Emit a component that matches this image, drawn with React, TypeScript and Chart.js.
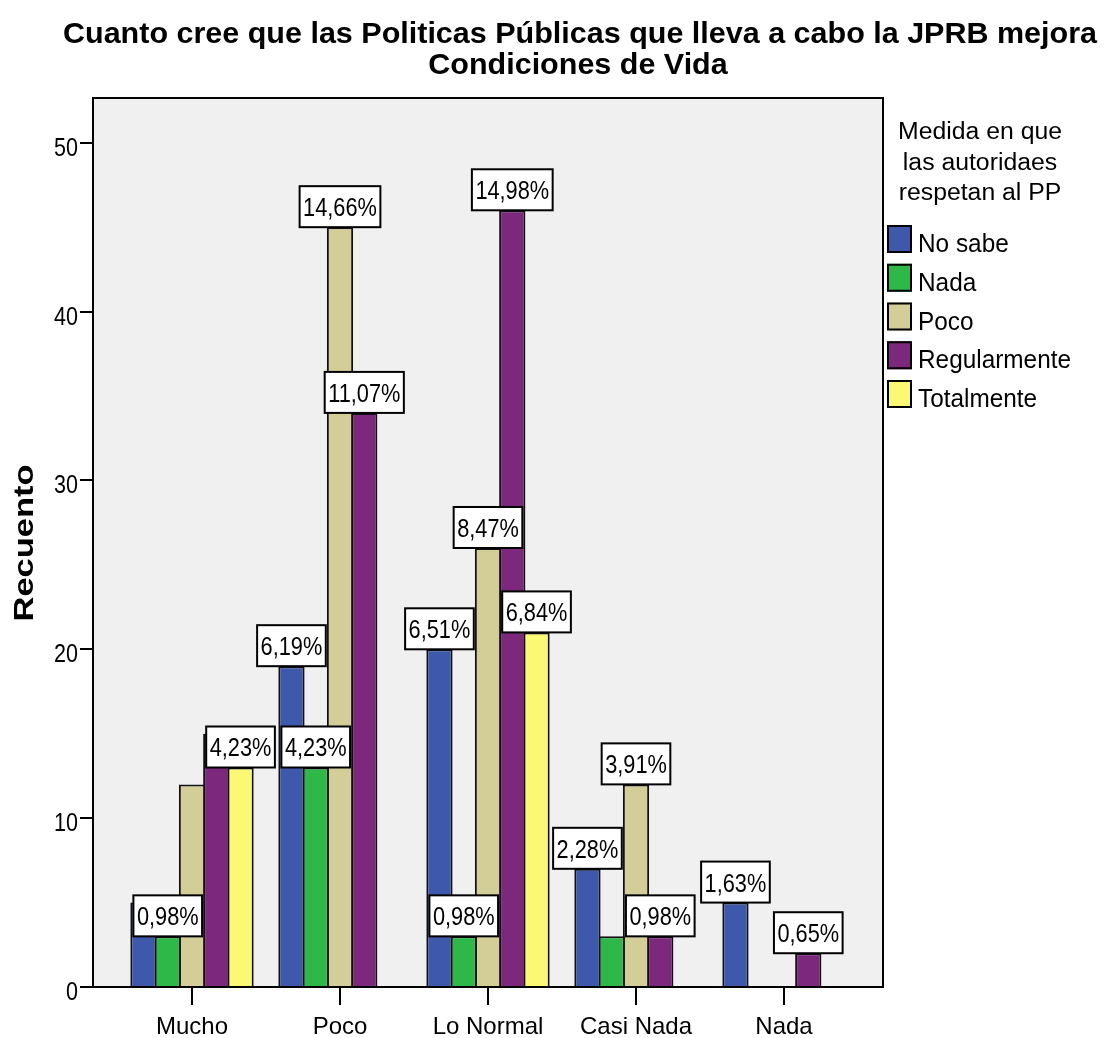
import React, { useEffect, useRef } from "react";
import { Chart, registerables } from "chart.js";

Chart.register(...registerables);

// ---- data ----
const titleLines = [
  "Cuanto cree que las Politicas Públicas que lleva a cabo la JPRB mejora",
  "Condiciones de Vida",
];
const yAxisTitle = "Recuento";
const legendTitle = ["Medida en que", "las autoridaes", "respetan al PP"];
const categories = ["Mucho", "Poco", "Lo Normal", "Casi Nada", "Nada"];
const yTicks = [0, 10, 20, 30, 40, 50];

const seriesNames = ["No sabe", "Nada", "Poco", "Regularmente", "Totalmente"];
const seriesColors = ["#3E58AC", "#2EB848", "#D3CE97", "#7C287D", "#FBF873"];

const noSabe = [5, 19, 20, 7, 5];
const nada = [3, 13, 3, 3, null];
const poco = [12, 45, 26, 12, null];
const regularmente = [15, 34, 46, 3, 2];
const totalmente = [13, null, 21, null, null];

const noSabeLabels = [null, "6,19%", "6,51%", "2,28%", "1,63%"];
const nadaLabels = ["0,98%", "4,23%", "0,98%", null, null];
const pocoLabels = [null, "14,66%", "8,47%", "3,91%", null];
const regularmenteLabels = [null, "11,07%", "14,98%", "0,98%", "0,65%"];
const totalmenteLabels = ["4,23%", null, "6,84%", null, null];

const seriesValues = [noSabe, nada, poco, regularmente, totalmente];
const seriesLabels = [noSabeLabels, nadaLabels, pocoLabels, regularmenteLabels, totalmenteLabels];

const FONT = "'Liberation Sans', Arial, Helvetica, sans-serif";

function drawText(
  ctx: CanvasRenderingContext2D,
  text: string,
  x: number,
  y: number,
  font: string,
  scaleX: number,
  align: CanvasTextAlign,
  rotate = 0
) {
  ctx.save();
  ctx.font = font;
  ctx.fillStyle = "#000";
  ctx.textBaseline = "alphabetic";
  ctx.textAlign = align;
  ctx.translate(x, y);
  if (rotate) ctx.rotate(rotate);
  ctx.scale(scaleX, 1);
  ctx.fillText(text, 0, 0);
  ctx.restore();
}

function fitScale(ctx: CanvasRenderingContext2D, text: string, font: string, target: number) {
  ctx.save();
  ctx.font = font;
  const w = ctx.measureText(text).width;
  ctx.restore();
  return w > 0 ? target / w : 1;
}

const spssPlugin = {
  id: "spssDecor",
  beforeDraw(chart: any) {
    const { ctx, chartArea } = chart;
    ctx.save();
    ctx.fillStyle = "#FFFFFF";
    ctx.fillRect(0, 0, chart.width, chart.height);
    ctx.fillStyle = "#F0F0F0";
    ctx.fillRect(chartArea.left, chartArea.top, chartArea.right - chartArea.left, chartArea.bottom - chartArea.top);
    ctx.restore();
  },
  afterDatasetsDraw(chart: any) {
    const { ctx, chartArea } = chart;
    // frame
    ctx.save();
    ctx.strokeStyle = "#000";
    ctx.lineWidth = 2;
    ctx.strokeRect(chartArea.left, chartArea.top, chartArea.right - chartArea.left, chartArea.bottom - chartArea.top);
    ctx.restore();

    // percentage labels
    const labelFont = `25px ${FONT}`;
    const sx = 0.87;
    seriesLabels.forEach((labels, di) => {
      const meta = chart.getDatasetMeta(di);
      labels.forEach((lab, i) => {
        if (!lab) return;
        const el = meta.data[i];
        if (!el) return;
        ctx.save();
        ctx.font = labelFont;
        const w = ctx.measureText(lab).width * sx + 7;
        const h = 41;
        const x = el.x;
        const bottom = el.y;
        ctx.fillStyle = "#FFFFFF";
        ctx.fillRect(x - w / 2, bottom - h, w, h);
        ctx.strokeStyle = "#000";
        ctx.lineWidth = 2;
        ctx.strokeRect(x - w / 2, bottom - h, w, h);
        ctx.restore();
        drawText(ctx, lab, x, bottom - h / 2 + 9.5, labelFont, sx, "center");
      });
    });
  },
  afterDraw(chart: any) {
    const { ctx } = chart;
    const xs = chart.scales.x;
    const ys = chart.scales.y;

    // title
    const tFont = `bold 30px ${FONT}`;
    const tScale = fitScale(ctx, titleLines[0], tFont, 1034);
    drawText(ctx, titleLines[0], 580, 43, tFont, tScale, "center");
    drawText(ctx, titleLines[1], 578, 74, tFont, tScale, "center");

    // y axis title
    const yFont = `bold 28px ${FONT}`;
    const yScale = fitScale(ctx, yAxisTitle, yFont, 157);
    drawText(ctx, yAxisTitle, 33, 543, yFont, yScale, "center", -Math.PI / 2);

    // y tick labels
    const ytFont = `25px ${FONT}`;
    yTicks.forEach((v) => {
      const py = ys.getPixelForValue(v);
      drawText(ctx, String(v), 78, py + 13, ytFont, 0.86, "right");
    });

    // x tick labels
    const xtFont = `24px ${FONT}`;
    categories.forEach((c, i) => {
      const px = xs.getPixelForValue(i + 1);
      drawText(ctx, c, px, 1034, xtFont, 1, "center");
    });

    // legend title
    const lFont = `23.5px ${FONT}`;
    const lScale = fitScale(ctx, legendTitle[0], lFont, 164);
    legendTitle.forEach((line, i) => {
      drawText(ctx, line, 980, 139 + i * 30.5, lFont, lScale, "center");
    });

    // legend items
    const iFont = `26.5px ${FONT}`;
    const iScale = fitScale(ctx, "Regularmente", iFont, 153);
    seriesNames.forEach((name, i) => {
      const base = 252 + i * 38.75;
      ctx.save();
      ctx.fillStyle = seriesColors[i];
      ctx.fillRect(887, base - 27, 25, 28);
      ctx.strokeStyle = "#000";
      ctx.lineWidth = 2;
      ctx.strokeRect(888, base - 26, 23, 26);
      ctx.restore();
      drawText(ctx, name, 918, base, iFont, iScale, "left");
    });
  },
};

export default function App() {
  const canvasRef = useRef<HTMLCanvasElement | null>(null);

  useEffect(() => {
    const canvas = canvasRef.current;
    if (!canvas) return;
    const chart = new Chart(canvas, {
      type: "bar",
      data: {
        datasets: seriesNames.map((name, di) => ({
          label: name,
          data: seriesValues[di].map((v, i) => ({ x: i + 1, y: v })),
          backgroundColor: seriesColors[di],
          borderColor: "#111111",
          borderWidth: 2,
          borderSkipped: "start",
          categoryPercentage: 0.82,
          barPercentage: 1.083,
        })),
      } as any,
      options: {
        responsive: false,
        animation: false,
        devicePixelRatio: 1,
        layout: { padding: { left: 0, top: 98, right: 223, bottom: 0 } },
        plugins: {
          legend: { display: false },
          title: { display: false },
          tooltip: { enabled: false },
        },
        scales: {
          x: {
            type: "linear",
            min: 1 - 99 / 148,
            max: 5 + 99 / 148,
            offset: false,
            afterBuildTicks: (s: any) => {
              s.ticks = categories.map((_, i) => ({ value: i + 1 }));
            },
            afterFit: (s: any) => {
              s.height = 51;
            },
            ticks: { display: false },
            grid: {
              offset: false,
              drawOnChartArea: false,
              drawTicks: true,
              tickLength: 18,
              color: "#000",
              lineWidth: 2,
            },
            border: { display: false },
          },
          y: {
            type: "linear",
            min: 0,
            max: 52.65,
            afterBuildTicks: (s: any) => {
              s.ticks = yTicks.map((v) => ({ value: v }));
            },
            afterFit: (s: any) => {
              s.width = 93;
            },
            ticks: { display: false },
            grid: {
              drawOnChartArea: false,
              drawTicks: true,
              tickLength: 13,
              color: "#000",
              lineWidth: 2,
            },
            border: { display: false },
          },
        },
      } as any,
      plugins: [spssPlugin],
    });
    return () => chart.destroy();
  }, []);

  return (
    <div style={{ position: "absolute", left: 0, top: 0, width: 1106, height: 1038 }}>
      <canvas ref={canvasRef} width={1106} height={1038} style={{ display: "block" }} />
    </div>
  );
}
